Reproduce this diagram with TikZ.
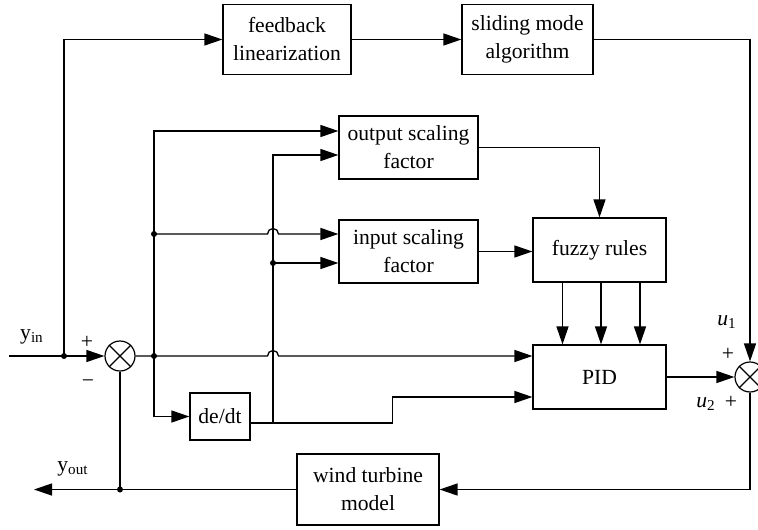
\documentclass[tikz,border=0pt]{standalone}
\usepackage{fontspec}
\setmainfont{Liberation Serif}
\usetikzlibrary{arrows.meta,calc}
\begin{document}
\begin{tikzpicture}[x=0.5pt,y=0.5pt,line width=0.65pt,
  box/.style={draw,line width=0.6pt,align=center,inner sep=0pt,
    font=\fontsize{10.8}{14}\selectfont},
  arr/.style={-{Triangle[length=9pt,width=6pt]}},
  sumj/.style={draw,circle,minimum size=15pt,inner sep=0pt,line width=0.6pt},
  dot/.style={circle,fill,inner sep=0pt,minimum size=3pt},
  lbl/.style={inner sep=0pt,font=\fontsize{10.8}{13}\selectfont}]
\useasboundingbox (0,0) rectangle (758,-529);

% blocks
\node[box,minimum width=64pt,minimum height=35pt] (fb) at (287,-39.5) {feedback\\linearization};
\node[box,minimum width=65.5pt,minimum height=35pt] (sm) at (527.5,-39.5) {sliding mode\\algorithm};
\node[box,minimum width=69.5pt,minimum height=31.5pt] (osf) at (408.5,-147.5) {output scaling\\factor};
\node[box,minimum width=69.5pt,minimum height=31.5pt] (isf) at (408.5,-251.5) {input scaling\\factor};
\node[box,minimum width=66.5pt,minimum height=32pt] (fz) at (599.5,-250) {fuzzy rules};
\node[box,minimum width=66.5pt,minimum height=32pt] (pid) at (599.5,-377) {PID};
\node[box,minimum width=30pt,minimum height=23.5pt] (dd) at (220,-416.5) {de/dt};
\node[box,minimum width=71pt,minimum height=35.5pt] (wt) at (368,-489.5) {wind turbine\\model};

% summing junctions
\node[sumj] (s1) at (120,-356) {};
\node[sumj] (s2) at (750,-377) {};
\foreach \s in {s1,s2} {
  \draw[line width=0.6pt] (\s.north west) -- (\s.south east);
  \draw[line width=0.6pt] (\s.north east) -- (\s.south west);
}

% branch points and free ends
\coordinate (in) at (9,-356);
\coordinate (j1) at (64,-356);
\coordinate (j2) at (154,-356);
\coordinate (j3) at (154,-234);
\coordinate (top2) at (154,-131);
\coordinate (vx) at (273,-263);
\coordinate (vtop) at (273,-155);
\coordinate (ddo) at ($(dd.east)+(0,-6.5)$);
\coordinate (kink) at ($(pid.west)+(-140,-20)$);
\coordinate (j4) at (s1 |- wt.west);
\coordinate (out) at (34,-489.5);

% reference input and feedforward path
\draw[arr] (in) -- (s1.west);
\draw[arr] (j1) |- (fb.west);
\draw[arr] (fb.east) -- (sm.west);
\draw[arr] (sm.east) -| (s2.north);

% error signal
\draw[arr] (s1.east) -- ($(vx |- s1)+(-2.75pt,0)$)
  arc[start angle=180,end angle=0,radius=2.75pt] -- (pid.west |- s1);
\draw[arr] (j2) -- (top2) -- (osf.west |- top2);
\draw[arr] (j3) -- ($(vx |- j3)+(-2.75pt,0)$)
  arc[start angle=180,end angle=0,radius=2.75pt] -- (isf.west |- j3);
\draw[arr] (j2) |- (dd.west);

% error derivative
\draw[arr] (ddo) -| (kink) -- (pid.west |- kink);
\draw[arr] (vx |- ddo) -- (vtop) -- (osf.west |- vtop);
\draw[arr] (vx) -- (isf.west |- vx);

% fuzzy tuning
\draw[arr] (osf.east) -| (fz.north);
\draw[arr] (isf.east) -- (isf.east -| fz.west);
\foreach \dx in {-37,1.5,40.5}
  \draw[arr] ($(fz.south)+(\dx,0)$) -- ($(pid.north)+(\dx,0)$);

% output and plant
\draw[arr] (pid.east) -- (s2.west);
\draw[arr] (s2.south) |- (wt.east);
\draw[arr] (wt.west) -- (out);
\draw (s1.south) -- (j4);

\foreach \p in {j1,j2,j3,vx,j4} \node[dot] at (\p) {};

% signal labels
\node[lbl] (lyin) at (32,-337) {y\textsubscript{in}};
\node[lbl] (lyout) at (73,-469) {y\textsubscript{out}};
\node[lbl] (lp1) at (87,-342) {+};
\node[lbl] (lm1) at (88,-384) {\textminus};
\node[lbl] (lu1) at (727,-322) {\textit{u}\textsubscript{1}};
\node[lbl] (lp2) at (728,-354) {+};
\node[lbl] (lu2) at (706,-404) {\textit{u}\textsubscript{2}};
\node[lbl] (lp3) at (731,-402) {+};
\end{tikzpicture}
\end{document}
